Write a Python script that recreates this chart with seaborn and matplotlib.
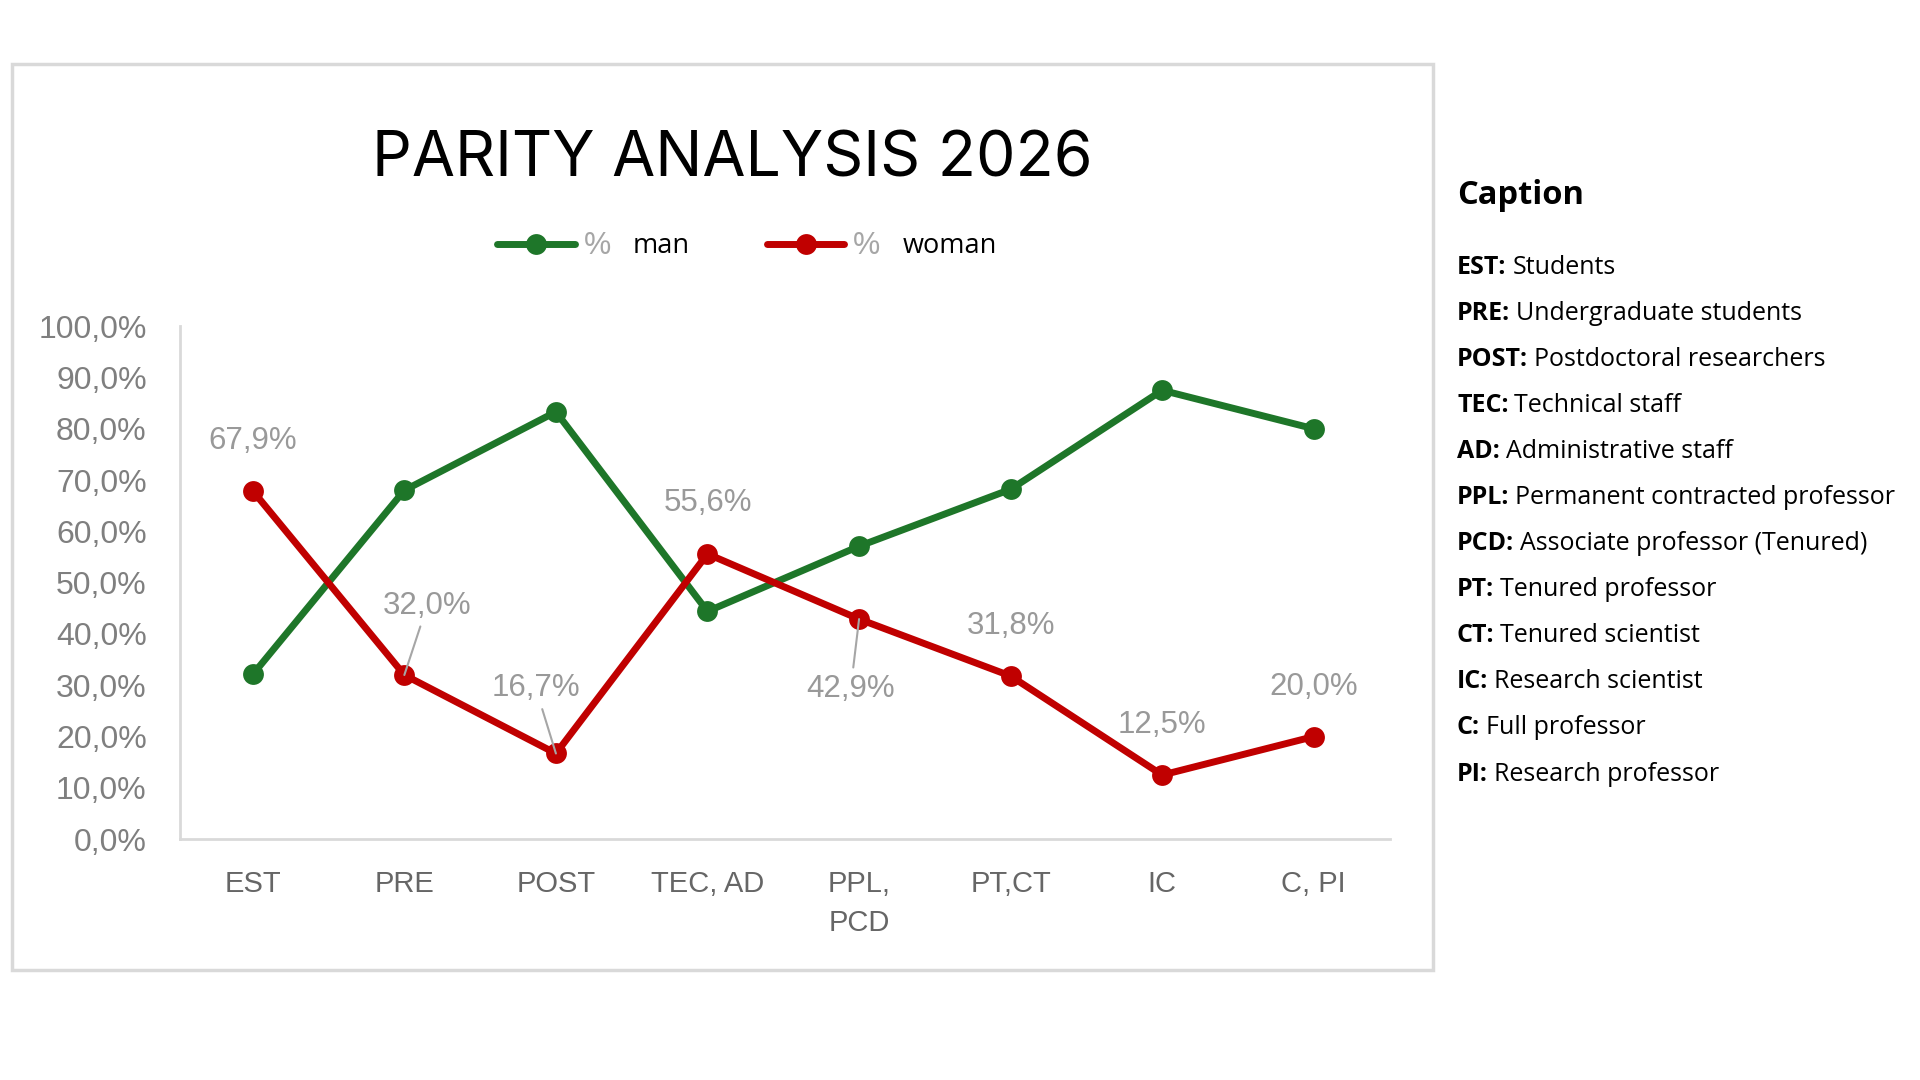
import numpy as np
import pandas as pd
import matplotlib
matplotlib.use("Agg")
import matplotlib.pyplot as plt
from matplotlib.patches import Rectangle
from matplotlib.ticker import FuncFormatter
import seaborn as sns

# Chart data
categories = ["EST", "PRE", "POST", "TEC, AD", "PPL,\nPCD", "PT,CT", "IC", "C, PI"]
pct_woman = [67.9, 32.0, 16.7, 55.6, 42.9, 31.8, 12.5, 20.0]
pct_man = [32.1, 68.0, 83.3, 44.4, 57.1, 68.2, 87.5, 80.0]
series_names = ["man", "woman"]

caption_keys = ["EST:", "PRE:", "POST:", "TEC:", "AD:", "PPL:", "PCD:", "PT:", "CT:", "IC:", "C:", "PI:"]
caption_vals = ["Students", "Undergraduate students", "Postdoctoral researchers", "Technical staff",
                "Administrative staff", "Permanent contracted professor", "Associate professor (Tenured)",
                "Tenured professor", "Tenured scientist", "Research scientist", "Full professor",
                "Research professor"]

# label offsets (points) for the woman data labels
label_offsets = [(0, 36), (16.5, 50), (-14.5, 47), (0, 36.5), (-6, -50), (0, 36), (0, 36), (0, 36)]
leader_lines = [False, True, True, False, True, False, False, False]

GREEN = "#1e7629"
RED = "#c00000"


def pct_fmt(v, pos=None):
    return f"{v:.1f}%".replace(".", ",")


df = pd.DataFrame({
    "pos": list(range(len(categories))) * 2,
    "value": pct_man + pct_woman,
    "series": ["man"] * len(categories) + ["woman"] * len(categories),
})

sns.set_theme(style="white")
plt.rcParams["font.family"] = ["Liberation Sans", "DejaVu Sans"]

fig = plt.figure(figsize=(19.2, 10.8), dpi=100)
ax = fig.add_axes([0.09375, 0.223, 0.630, 0.475])

sns.lineplot(data=df, x="pos", y="value", hue="series", palette={"man": GREEN, "woman": RED},
             marker="o", markersize=15, markeredgewidth=0, linewidth=5, ax=ax, legend=False)

ax.set_xlim(-0.48, len(categories) - 0.5)
ax.set_ylim(0, 100)
ax.set_yticks(np.arange(0, 101, 10))
ax.yaxis.set_major_formatter(FuncFormatter(pct_fmt))
ax.set_xticks(range(len(categories)))
ax.set_xticklabels(categories, linespacing=1.5)
ax.set_xlabel("")
ax.set_ylabel("")
ax.tick_params(axis="y", length=0, pad=24, labelsize=23, labelcolor="#7f7f7f")
ax.tick_params(axis="x", length=0, pad=22, labelsize=21, labelcolor="#666666")
for lab in ax.get_xticklabels():
    lab.set_va("top")

for side in ["top", "right"]:
    ax.spines[side].set_visible(False)
for side in ["left", "bottom"]:
    ax.spines[side].set_color("#d9d9d9")
    ax.spines[side].set_linewidth(2)

# data labels for the woman series
for i, v in enumerate(pct_woman):
    arrow = dict(arrowstyle="-", color="#a6a6a6", lw=1.5, shrinkA=2, shrinkB=0) if leader_lines[i] else None
    ax.annotate(pct_fmt(v), xy=(i, v), xytext=label_offsets[i], textcoords="offset points",
                ha="center", va="center", fontsize=22.5, color="#999999", arrowprops=arrow)

# legend
handles = [plt.Line2D([], [], color=GREEN, lw=5, marker="o", markersize=15, markeredgewidth=0),
           plt.Line2D([], [], color=RED, lw=5, marker="o", markersize=15, markeredgewidth=0)]
leg = fig.legend(handles, ["%", "%"], ncol=2, loc="center left", bbox_to_anchor=(497 / 1920, 0.7718),
                 frameon=False, borderpad=0, borderaxespad=0, handlelength=2.55, handletextpad=0.28,
                 columnspacing=5.1, fontsize=22, labelcolor="#a6a6a6")

# title
fig.text(732 / 1920, 1 - 160 / 1080, "PARITY ANALYSIS 2026", ha="center", va="center",
         fontsize=45, color="black", family="Inter")

# frame around chart
fig.patches.append(Rectangle((12 / 1920, 1 - 970 / 1080), (1433 - 12) / 1920, (970 - 64) / 1080,
                             transform=fig.transFigure, fill=False, edgecolor="#d9d9d9", lw=2.5))

# caption block
cx = 1457 / 1920
fig.text(cx, 1 - 195 / 1080, "Caption", ha="left", va="center", fontsize=23.5,
         fontweight="bold", family="Open Sans", color="black")
key_texts = []
for i, k in enumerate(caption_keys):
    y = 1 - (273.5 + 46.1 * i) / 1080
    key_texts.append(fig.text(cx, y, k, ha="left", va="baseline", fontsize=18, fontweight="bold",
                              family="Open Sans", color="black"))

# place the plain parts next to their bold parts once the layout is known
fig.canvas.draw()
for t, v in zip(key_texts, caption_vals):
    bb = t.get_window_extent()
    fig.text((bb.x1 + 6) / 1920, t.get_position()[1], v, ha="left", va="baseline",
             fontsize=18, family="Open Sans", color="black")

for t, name in zip(leg.get_texts(), series_names):
    bb = t.get_window_extent()
    fig.text((bb.x1 + 22) / 1920, (bb.y0 + bb.y1) / 2 / 1080, name, ha="left", va="center",
             fontsize=19.5, family="Open Sans", color="black")

fig.savefig("out.png", dpi=100, facecolor="white")
